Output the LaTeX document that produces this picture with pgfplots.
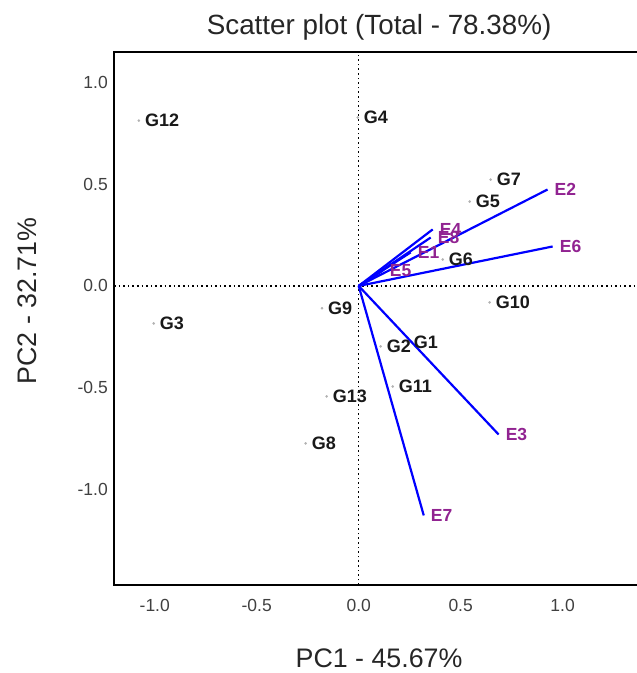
\documentclass[border=0pt]{standalone}
\usepackage{fontspec}
\setmainfont{Liberation Sans}
\usepackage{pgfplots}
\pgfplotsset{compat=1.18}
\usepackage{pgfplotstable}
\definecolor{envcol}{RGB}{145,35,145}
\definecolor{vecblue}{RGB}{0,0,255}

\pgfplotstableread{
x y lab
0.240 -0.278 G1
0.108 -0.297 G2
-1.005 -0.184 G3
-0.005 0.828 G4
0.544 0.415 G5
0.412 0.130 G6
0.647 0.523 G7
-0.260 -0.774 G8
-0.180 -0.110 G9
0.642 -0.081 G10
0.167 -0.494 G11
-1.078 0.813 G12
-0.157 -0.543 G13
}\genotypes

\pgfplotstableread{
x0 y0 u v lab
0 0 0.255 0.165 E1
0 0 0.926 0.474 E2
0 0 0.686 -0.730 E3
0 0 0.363 0.278 E4
0 0 0.118 0.076 E5
0 0 0.951 0.194 E6
0 0 0.319 -1.128 E7
0 0 0.353 0.238 E8
}\envs

\begin{document}
\begin{tikzpicture}
\begin{axis}[
  at={(0,0)}, anchor=south west,
  scale only axis,
  width=530.4pt, height=533.2pt,
  xmin=-1.2, xmax=1.4,
  ymin=-1.47, ymax=1.15,
  axis line style={line width=2.5pt, black},
  xtick={-1,-0.5,0,0.5,1},
  ytick={-1,-0.5,0,0.5,1},
  major tick length=0pt,
  /pgf/number format/assume math mode=true,
  /pgf/number format/fixed,
  /pgf/number format/fixed zerofill,
  /pgf/number format/precision=1,
  tick label style={font=\fontsize{17.5}{20}\selectfont, text=black!75, inner sep=0pt},
  xticklabel style={anchor=center, yshift=-20pt},
  yticklabel style={anchor=east, xshift=-6pt},
  title={Scatter plot (Total - 78.38\%)},
  title style={font=\fontsize{27.8}{32}\selectfont, text=black!85, at={(axis description cs:0.5,1)}, anchor=center, yshift=19pt, inner sep=0pt},
  xlabel={PC1 - 45.67\%},
  xlabel style={font=\fontsize{26.8}{30}\selectfont, text=black!85, at={(axis description cs:0.5,0)}, anchor=center, yshift=-73pt, inner sep=0pt},
  ylabel={PC2 - 32.71\%},
  ylabel style={font=\fontsize{26.8}{30}\selectfont, text=black!85, at={(axis description cs:-0.164,0.533)}, anchor=center, inner sep=0pt},
  clip=false,
]
% reference lines
\addplot[black, line width=1.4pt, dash pattern=on 1.6pt off 3pt] coordinates {(0,-1.47) (0,1.15)};
\addplot[black, line width=1.4pt, dash pattern=on 1.6pt off 3pt] coordinates {(-1.2,0) (1.4,0)};
% vectors
\addplot[vecblue, line width=2.2pt, quiver={u=\thisrow{u}, v=\thisrow{v}}, -] table[x=x0, y=y0] {\envs};
% vector labels
\addplot[only marks, mark=none,
  nodes near coords, point meta=explicit symbolic,
  nodes near coords style={anchor=west, xshift=7pt, inner sep=0pt, text=envcol, font=\fontsize{17.5}{20}\selectfont\bfseries}]
  table[x=u, y=v, meta=lab] {\envs};
% genotype points
\addplot[only marks, mark=*, mark size=1.1pt, color=black!30,
  nodes near coords, point meta=explicit symbolic,
  nodes near coords style={anchor=west, xshift=6pt, inner sep=0pt, text=black!90, font=\fontsize{18}{20}\selectfont\bfseries}]
  table[x=x, y=y, meta=lab] {\genotypes};
\end{axis}
\pgfresetboundingbox
\useasboundingbox ([xshift=-114pt,yshift=-88pt]current axis.south west) rectangle ([xshift=523pt,yshift=52pt]current axis.south west |- current axis.north west);
\end{tikzpicture}
\end{document}
